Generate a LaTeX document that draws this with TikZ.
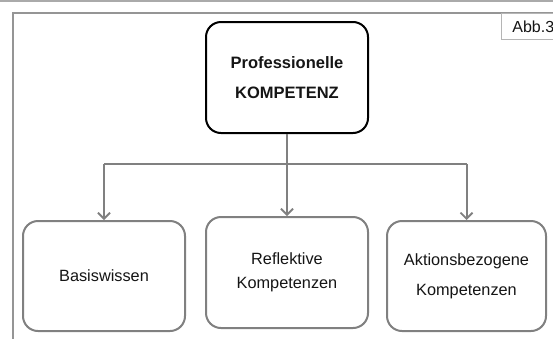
\documentclass[tikz,border=0pt]{standalone}
\usepackage{fontspec}
\setmainfont{Liberation Sans}
\usetikzlibrary{arrows.meta}
\definecolor{linegray}{HTML}{808080}
\definecolor{framegray}{HTML}{959595}
\definecolor{txt}{HTML}{151515}
\tikzset{
  box/.style={draw=linegray, line width=2pt, rounded corners=15pt, fill=white,
    minimum width=162pt, minimum height=110pt, align=center, text=txt, inner sep=0pt,
    font=\fontsize{16.3}{30}\selectfont},
  mainbox/.style={box, draw=black, line width=2pt, font=\bfseries\fontsize{16.5}{30}\selectfont},
  conn/.style={draw=linegray, line width=2pt},
  arr/.style={conn, -{Straight Barb[length=6pt,width=12pt,line width=1.8pt]}},
  tag/.style={draw=framegray!70, line width=0.8pt, anchor=north west, minimum height=26pt,
    minimum width=60pt, text=txt, inner sep=0pt, font=\fontsize{16}{18}\selectfont, text width=52pt, align=left}
}
\begin{document}
\begin{tikzpicture}[x=1pt,y=-1pt]
\useasboundingbox (0,0) rectangle (553,338);
\fill[white] (0,0) rectangle (553,338);
% top rule and frame
\coordinate (tl) at (0,1);
\coordinate (tr) at (553,1);
\draw[framegray!80, line width=1.5pt] (tl) -- (tr);
\coordinate (fb) at (13,340);
\coordinate (fc) at (13,13);
\coordinate (fr) at (556,13);
\draw[framegray, line width=2pt] (fb) -- (fc) -- (fr);
\node[tag] (abb) at (501,13) {\hspace*{7pt}Abb.3};
% nodes
\node[mainbox, minimum height=111pt] (main) at (287,77.5) {Professionelle\\KOMPETENZ};
\node[box] (b1) at (104,276) {Basiswissen};
\node[box, minimum height=111pt, font=\fontsize{16.3}{23.5}\selectfont] (b2) at (287,272.5) {\raisebox{-4pt}{Reflektive}\\\raisebox{-4pt}{Kompetenzen}};
\node[box, minimum width=159pt] (b3) at (466.5,276) {Aktionsbezogene\\Kompetenzen};
% connectors
\coordinate (bar) at (287,164);
\draw[conn] (b1.north |- bar) -- (b3.north |- bar);
\draw[arr] (main.south) -- (b2.north);
\draw[arr] (b1.north |- bar) -- (b1.north);
\draw[arr] (b3.north |- bar) -- (b3.north);
\end{tikzpicture}
\end{document}
